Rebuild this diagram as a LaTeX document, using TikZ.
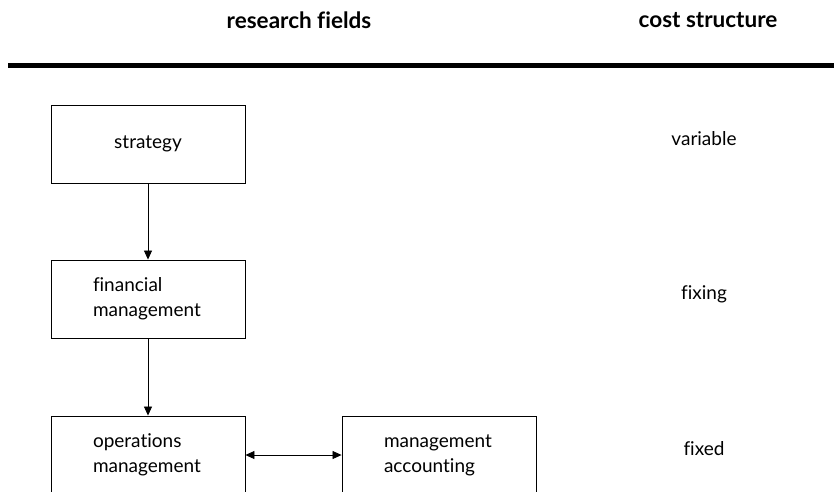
\documentclass[tikz,border=0pt]{standalone}
\usepackage{fontspec}
\setmainfont{Lato}[Ligatures={NoCommon}]
\usetikzlibrary{arrows.meta}
\begin{document}
\begin{tikzpicture}[x=1pt,y=-1pt,
  fieldbox/.style={draw=black, line width=0.9pt, minimum width=194pt, minimum height=78pt,
    inner xsep=0pt, font=\fontsize{19}{25}\selectfont},
  leftbox/.style={fieldbox, align=left, text width=110pt, inner xsep=42pt},
  heading/.style={font=\fontsize{22.5}{26}\selectfont\bfseries},
  costlabel/.style={font=\fontsize{19}{22}\selectfont},
  flow/.style={line width=0.8pt, -{Triangle[length=9pt,width=8pt]}},
  mutual/.style={line width=0.8pt, {Triangle[length=9pt,width=8pt]}-{Triangle[length=9pt,width=8pt]}}]
\useasboundingbox (0,0) rectangle (834,491);
\clip (0,0) rectangle (834,491);

% column headings and rule
\node[heading] (hfields) at (299,20) {research fields};
\node[heading] (hcost) at (708,20) {cost structure};
\draw[line width=5pt] (8,65.5) -- (840,65.5);

% research fields
\node[fieldbox] (strategy) at (148,144) {strategy};
\node[leftbox] (finance) at (148,299) {financial\\management};
\node[leftbox] (operations) at (148,455) {operations\\management};
\node[leftbox] (accounting) at (439,455) {management\\accounting};

\draw[flow] (strategy) -- (finance);
\draw[flow] (finance) -- (operations);
\draw[mutual] (operations) -- (accounting);

% cost structure
\node[costlabel] (variable) at (704,139) {variable};
\node[costlabel] (fixing) at (704,294) {fixing};
\node[costlabel] (fixed) at (704,449) {fixed};
\end{tikzpicture}
\end{document}
